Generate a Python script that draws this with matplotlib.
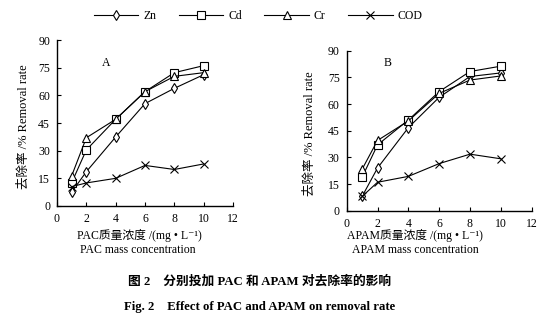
import matplotlib
matplotlib.use("Agg")
import matplotlib.pyplot as plt
from matplotlib.lines import Line2D

plt.rcParams['font.family'] = ['Liberation Serif', 'Noto Sans CJK SC', 'DejaVu Serif']
plt.rcParams['font.size'] = 8

# Dosage (mg/L)
dose = [1, 2, 4, 6, 8, 10]

# Panel A: PAC
pac_zn = [7.5, 18.6, 37.4, 55.5, 63.8, 71.2]
pac_cd = [12.6, 30.4, 47.0, 62.0, 72.3, 76.1]
pac_cr = [16.3, 37.0, 47.0, 62.0, 70.3, 72.3]
pac_cod = [10.5, 12.5, 15.0, 22.0, 19.8, 22.8]

# Panel B: APAM
apam_zn = [8.0, 24.0, 46.7, 63.8, 75.5, 77.5]
apam_cd = [18.8, 37.0, 51.0, 67.0, 78.3, 81.3]
apam_cr = [23.3, 39.5, 50.5, 66.0, 73.5, 75.8]
apam_cod = [8.0, 16.0, 19.3, 26.5, 31.8, 29.2]

series_names = ['Zn', 'Cd', 'Cr', 'COD']
markers = ['d', 's', '^', 'x']
marker_sizes = [5, 5.5, 5.5, 5.5]

fig = plt.figure(figsize=(5.57, 3.24), dpi=100)
axA = fig.add_axes([0.1023, 0.3642, 0.316, 0.5123])
axB = fig.add_axes([0.6224, 0.3497, 0.3321, 0.4938])


def draw_panel(ax, data, letter, lx, ly):
    for vals, m, ms in zip(data, markers, marker_sizes):
        ax.plot(dose, vals, color='black', lw=0.8, marker=m, ms=ms,
                mfc='white' if m != 'x' else 'black', mec='black', mew=0.8,
                clip_on=False)
    ax.set_xlim(0, 12)
    ax.set_ylim(0, 90)
    ax.set_xticks(range(0, 13, 2))
    ax.set_yticks(range(0, 91, 15))
    for s in ('top', 'right'):
        ax.spines[s].set_visible(False)
    for s in ('left', 'bottom'):
        ax.spines[s].set_linewidth(1.0)
    ax.tick_params(direction='in', length=3, width=0.8, labelsize=8.5, pad=5)
    ax.text(lx, ly, letter, fontsize=8.5, ha='center', va='center')


draw_panel(axA, [pac_zn, pac_cd, pac_cr, pac_cod], 'A', 3.34, 77.5)
draw_panel(axB, [apam_zn, apam_cd, apam_cr, apam_cod], 'B', 2.68, 83)

W, H = 557, 324


def ftext(x, y, s, **kw):
    fig.text(x / W, 1 - y / H, s, ha='center', va='center', **kw)


ftext(24, 127, '去除率 /% Removal rate', rotation=90, fontsize=9)
ftext(310, 134, '去除率 /% Removal rate', rotation=90, fontsize=9)

ftext(139, 235, 'PAC质量浓度 /(mg • L⁻¹)', fontsize=8.5)
ftext(138, 250, 'PAC mass concentration', fontsize=8.5)
ftext(415, 235, 'APAM质量浓度 /(mg • L⁻¹)', fontsize=8.5)
ftext(415, 250, 'APAM mass concentration', fontsize=8.5)

ftext(260, 282, '图 2    分别投加 PAC 和 APAM 对去除率的影响', fontsize=9.2,
      fontweight='bold')
ftext(260, 307, 'Fig. 2    Effect of PAC and APAM on removal rate', fontsize=9.2,
      fontweight='bold')

handles = [Line2D([], [], color='black', lw=0.8, marker=m, ms=ms,
                  mfc='white' if m != 'x' else 'black', mec='black', mew=0.8)
           for m, ms in zip(markers, marker_sizes)]
fig.legend(handles, series_names, loc='center', ncol=4, frameon=False,
           bbox_to_anchor=(258 / W, 1 - 16 / H), handlelength=3.8,
           columnspacing=1.9, handletextpad=0.4, fontsize=8.5)

fig.savefig('out.png', dpi=100)
